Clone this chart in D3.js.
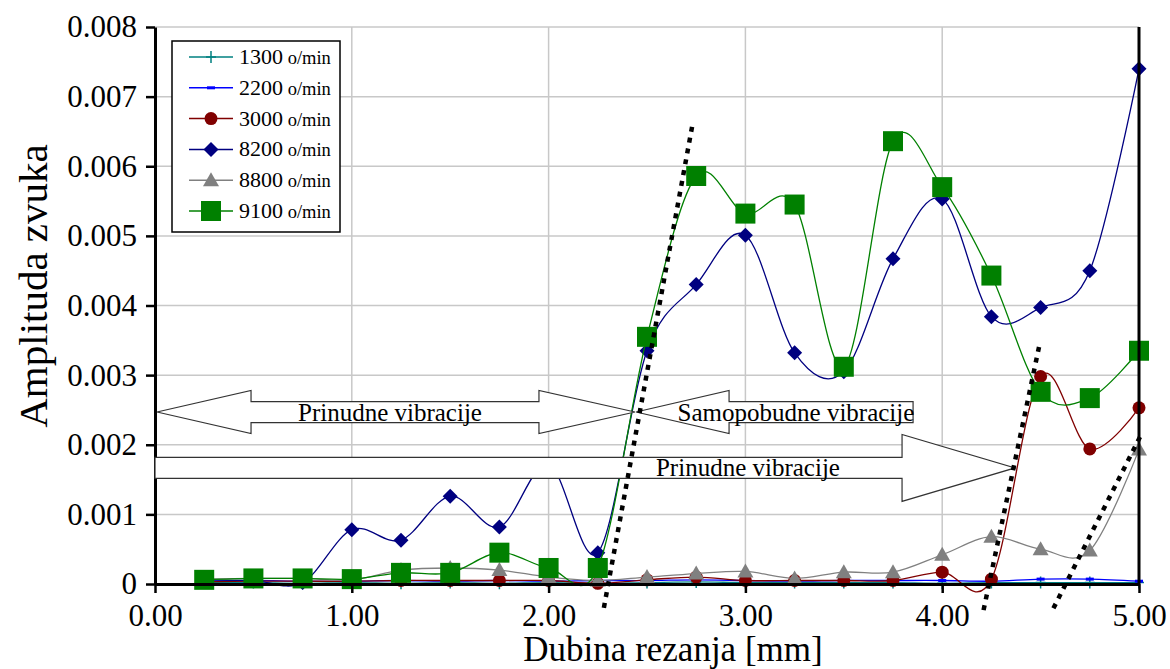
<!DOCTYPE html>
<html><head><meta charset="utf-8">
<script src="https://cdn.jsdelivr.net/npm/d3@7/dist/d3.min.js"></script>
<style>
body{margin:0;background:#fff}
svg{display:block}
text{font-family:"Liberation Serif","Times New Roman",serif;fill:#000}
</style>
</head><body>
<svg id="c" width="1170" height="669"></svg>
<script>
// ---------- data ----------
const depth = [0.25,0.50,0.75,1.00,1.25,1.50,1.75,2.00,2.25,2.50,2.75,3.00,3.25,3.50,3.75,4.00,4.25,4.50,4.75,5.00];
const s1300 = [0.00002,0.00002,0.00001,0.00002,0.00001,0.00002,0.00001,0.00002,0.00001,0.00002,0.00003,0.00002,0.00002,0.00002,0.00002,0.00001,0.00002,0.00002,0.00002,0.00002];
const s2200 = [0.00004,0.00005,0.00004,0.00004,0.00005,0.00004,0.00005,0.00004,0.00005,0.00005,0.00006,0.00005,0.00004,0.00005,0.00005,0.00005,0.00004,0.00007,0.00007,0.00004];
const s3000 = [0.00003,0.00004,0.00004,0.00004,0.00005,0.00005,0.00005,0.00005,0.00001,0.00006,0.00010,0.00005,0.00005,0.00005,0.00005,0.00017,0.00007,0.00298,0.00194,0.00253];
const s8200 = [0.00006,0.00005,0.00002,0.00078,0.00063,0.00126,0.00082,0.00172,0.00045,0.00335,0.00430,0.00501,0.00332,0.00305,0.00467,0.00553,0.00384,0.00397,0.00450,0.00740];
const s8800 = [0.00007,0.00008,0.00008,0.00006,0.00020,0.00023,0.00020,0.00010,0.00005,0.00010,0.00015,0.00018,0.00008,0.00017,0.00017,0.00042,0.00068,0.00050,0.00048,0.00193];
const s9100 = [0.00006,0.00008,0.00008,0.00007,0.00016,0.00016,0.00045,0.00023,0.00023,0.00355,0.00586,0.00532,0.00545,0.00312,0.00636,0.00570,0.00443,0.00276,0.00267,0.00335];
const seriesNames = ["1300","2200","3000","8200","8800","9100"];
const seriesValues = [s1300,s2200,s3000,s8200,s8800,s9100];
const unitLabel = "o/min";
const xTicks = [0,1,2,3,4,5];
const yTicks = [0,0.001,0.002,0.003,0.004,0.005,0.006,0.007,0.008];
const xTitle = "Dubina rezanja [mm]";
const yTitle = "Amplituda zvuka";
const labelForced = "Prinudne vibracije";
const labelSelf = "Samopobudne vibracije";

// ---------- styles ----------
const colors  = ["#008080","#0000ff","#800000","#000080","#808080","#008000"];
const markers = ["plus","dash","circle","diamond","triangle","square"];

// ---------- layout ----------
const svg = d3.select("#c");
const x = d3.scaleLinear().domain([0,5]).range([155,1139]);
const y = d3.scaleLinear().domain([0,0.008]).range([584,27]);

// grid
const grid = svg.append("g");
grid.selectAll("line.h").data(yTicks.filter(d=>d>0)).join("line")
  .attr("x1",x(0)).attr("x2",x(5)).attr("y1",d=>y(d)).attr("y2",d=>y(d))
  .attr("stroke","#c8c8c8").attr("stroke-width",1.5);
grid.selectAll("line.v").data(xTicks.filter(d=>d>0&&d<5)).join("line")
  .attr("x1",d=>x(d)).attr("x2",d=>x(d)).attr("y1",y(0)).attr("y2",y(0.008))
  .attr("stroke","#c8c8c8").attr("stroke-width",1.5);

// series
const line = d3.line().x(d=>x(d[0])).y(d=>y(d[1])).curve(d3.curveCatmullRom.alpha(0));
function drawMarker(g, type, color){
  if(type==="plus"){
    g.append("path").attr("d","M-5,0H5M0,-6V6").attr("stroke",color).attr("stroke-width",1.5).attr("fill","none");
  } else if(type==="dash"){
    g.append("rect").attr("x",-4).attr("y",-1.5).attr("width",8).attr("height",3).attr("fill",color);
  } else if(type==="circle"){
    g.append("circle").attr("r",6.5).attr("fill",color);
  } else if(type==="diamond"){
    g.append("path").attr("d","M0,-7.5L7.5,0L0,7.5L-7.5,0Z").attr("fill",color);
  } else if(type==="triangle"){
    g.append("path").attr("d","M0,-8L8,6H-8Z").attr("fill",color);
  } else if(type==="square"){
    g.append("rect").attr("x",-10).attr("y",-10).attr("width",20).attr("height",20).attr("fill",color);
  }
}
const plot = svg.append("g");
seriesValues.forEach((vals,i)=>{
  const pts = depth.map((d,j)=>[d,vals[j]]);
  const g = plot.append("g");
  g.append("path").attr("d",line(pts)).attr("fill","none").attr("stroke",colors[i]).attr("stroke-width",1.3);
  pts.forEach(p=>{
    const m = g.append("g").attr("transform",`translate(${x(p[0])},${y(p[1])})`);
    drawMarker(m, markers[i], colors[i]);
  });
});

// axes
const yAxis = svg.append("g").attr("transform",`translate(${x(0)},0)`)
  .call(d3.axisLeft(y).tickValues(yTicks).tickSize(9).tickSizeOuter(0).tickPadding(9)
    .tickFormat(d=>d===0?"0":d3.format(".3f")(d)));
yAxis.select(".domain").attr("stroke","#000").attr("stroke-width",3);
yAxis.selectAll(".tick line").attr("stroke","#000").attr("stroke-width",2.5);
yAxis.selectAll(".tick text").attr("font-size",31).attr("font-family","Liberation Serif").attr("fill","#000");

const xAxis = svg.append("g").attr("transform",`translate(0,${y(0)})`)
  .call(d3.axisBottom(x).tickValues(xTicks).tickSize(9).tickSizeOuter(0).tickPadding(11)
    .tickFormat(d3.format(".2f")));
xAxis.select(".domain").attr("stroke","#000").attr("stroke-width",3);
xAxis.selectAll(".tick line").attr("stroke","#000").attr("stroke-width",2.5);
xAxis.selectAll(".tick text").attr("font-size",31).attr("font-family","Liberation Serif").attr("fill","#000");

// right border
svg.append("line").attr("x1",x(5)).attr("x2",x(5)).attr("y1",y(0.008)).attr("y2",y(0))
  .attr("stroke","#000").attr("stroke-width",3);

// titles
svg.append("text").attr("x",673).attr("y",661).attr("text-anchor","middle")
  .attr("font-size",35).text(xTitle);
svg.append("text").attr("transform",`translate(47,286) rotate(-90)`)
  .attr("text-anchor","middle").attr("font-size",41).text(yTitle);

// ---------- annotations (data units) ----------
const ann = svg.append("g");
const arrowStyle = s=>s.attr("fill","#fff").attr("stroke","#333").attr("stroke-width",1.2);
const yTop = 0.00247, yBot = 0.001667;
const sh = 10.5, hh = 21.5, hb = 33.5;   // half heights in px
// top double arrow (left ↔ right)
{
  const yc=y(yTop), a=x(0.01), b=x(0.488), c=x(1.951), d=x(2.439);
  ann.append("path").attr("d",`M${a},${yc}L${b},${yc-hh}L${b},${yc-sh}L${c},${yc-sh}L${c},${yc-hh}L${d},${yc}L${c},${yc+hh}L${c},${yc+sh}L${b},${yc+sh}L${b},${yc+hh}Z`).call(arrowStyle);
}
// self-excited arrow pointing left
{
  const yc=y(yTop), a=x(2.444), b=x(2.917), e=x(3.852);
  ann.append("path").attr("d",`M${a},${yc}L${b},${yc-hh}L${b},${yc-sh}L${e},${yc-sh}L${e},${yc+sh}L${b},${yc+sh}L${b},${yc+hh}Z`).call(arrowStyle);
}
// bottom forced arrow pointing right
{
  const yc=y(yBot), a=x(0), b=x(3.796), t=x(4.370);
  ann.append("path").attr("d",`M${a},${yc-sh}L${b},${yc-sh}L${b},${yc-hb}L${t},${yc}L${b},${yc+hb}L${b},${yc+sh}L${a},${yc+sh}Z`).call(arrowStyle);
}
ann.append("text").attr("x",x(1.194)).attr("y",y(yTop)+8.5).attr("text-anchor","middle").attr("font-size",25).text(labelForced);
ann.append("text").attr("x",x(3.257)).attr("y",y(yTop)+8.5).attr("text-anchor","middle").attr("font-size",25).text(labelSelf);
ann.append("text").attr("x",x(3.013)).attr("y",y(yBot)+8.5).attr("text-anchor","middle").attr("font-size",25).text(labelForced);

// dotted boundary lines
const boundaries = [[[2.729,0.006566],[2.276,-0.000417]],[[4.492,0.003405],[4.207,-0.000417]],[[5.005,0.002112],[4.553,-0.000417]]];
boundaries.forEach(b=>{
  ann.append("line").attr("x1",x(b[0][0])).attr("y1",y(b[0][1])).attr("x2",x(b[1][0])).attr("y2",y(b[1][1]))
    .attr("stroke","#000").attr("stroke-width",4.5).attr("stroke-dasharray","5,6");
});

// ---------- legend ----------
const lg = svg.append("g");
lg.append("rect").attr("x",172).attr("y",41).attr("width",168).attr("height",191)
  .attr("fill","#fff").attr("stroke","#000").attr("stroke-width",1.5);
seriesNames.forEach((n,i)=>{
  const yy = 57 + i*30.8;
  lg.append("line").attr("x1",189).attr("x2",233).attr("y1",yy).attr("y2",yy).attr("stroke",colors[i]).attr("stroke-width",1.5);
  const m = lg.append("g").attr("transform",`translate(211,${yy})`);
  drawMarker(m, markers[i], colors[i]);
  const t = lg.append("text").attr("x",239).attr("y",yy+7);
  t.append("tspan").attr("font-size",22).text(n);
  t.append("tspan").attr("font-size",18.5).text(" "+unitLabel);
});
</script>
</body></html>
